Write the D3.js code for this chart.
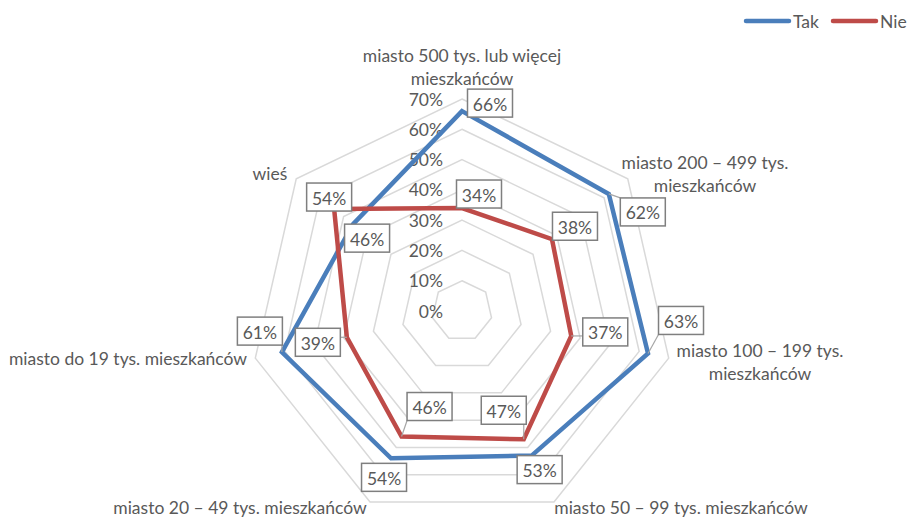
<!DOCTYPE html>
<html>
<head>
<meta charset="utf-8">
<script src="https://cdn.jsdelivr.net/npm/d3@7"></script>
<style>
  body { margin: 0; background: #fff; }
  text { font-family: Lato, "Open Sans", sans-serif; fill: #595959; }
</style>
</head>
<body>
<script>
// categories, clockwise from top
var categories = [
  ["miasto 500 tys. lub więcej", "mieszkańców"],
  ["miasto 200 – 499 tys.", "mieszkańców"],
  ["miasto 100 – 199 tys.", "mieszkańców"],
  ["miasto 50 – 99 tys. mieszkańców"],
  ["miasto 20 – 49 tys. mieszkańców"],
  ["miasto do 19 tys. mieszkańców"],
  ["wieś"]
];
var tak = [66, 62, 63, 53, 54, 61, 46];
var nie = [34, 38, 37, 47, 46, 39, 54];
var ticks = [0, 10, 20, 30, 40, 50, 60, 70];
var seriesNames = ["Tak", "Nie"];

var width = 907, height = 518;
var cx = 462, cy = 311, R = 212;
var colors = {Tak: "#4a7ebb", Nie: "#be4b48"};
var fs = "17.5px";

var svg = d3.select("body").append("svg")
  .attr("width", width).attr("height", height);

var r = d3.scaleLinear().domain([0, 70]).range([0, R]);
var angle = d3.scaleLinear().domain([0, categories.length]).range([0, 2 * Math.PI]);

function pt(i, v){
  var a = angle(i);
  return [cx + r(v) * Math.sin(a), cy - r(v) * Math.cos(a)];
}

//GRID
var idx = d3.range(categories.length);
ticks.forEach(function(t){
  if(t == 0) return;
  svg.append("path")
    .attr("d", d3.line()(idx.map(i => pt(i, t))) + "Z")
    .attr("fill", "none")
    .attr("stroke", "#d9d9d9")
    .attr("stroke-width", 1.5);
});

//tick labels
svg.selectAll("text.tick").data(ticks).enter().append("text")
  .attr("class", "tick")
  .attr("x", cx - 19)
  .attr("y", d => cy - r(d))
  .attr("dominant-baseline", "central")
  .attr("text-anchor", "end")
  .attr("font-size", fs)
  .text(d => d + "%");

//category labels
var catPos = [
  {x: 462, y: 55},
  {x: 705, y: 162},
  {x: 760, y: 350},
  {x: 681, y: 507},
  {x: 240, y: 507},
  {x: 128, y: 358},
  {x: 270, y: 173}
];
categories.forEach(function(c, i){
  var t = svg.append("text")
    .attr("x", catPos[i].x)
    .attr("y", catPos[i].y)
    .attr("text-anchor", "middle")
    .attr("dominant-baseline", "central")
    .attr("font-size", fs);
  c.forEach(function(line, j){
    t.append("tspan").attr("x", catPos[i].x).attr("dy", j == 0 ? 0 : 23).text(line);
  });
});

//SERIES LINES
var series = [{name: "Tak", values: tak}, {name: "Nie", values: nie}];
series.forEach(function(s){
  svg.append("path")
    .attr("d", d3.line()(s.values.map((v, i) => pt(i, v))) + "Z")
    .attr("fill", "none")
    .attr("stroke", colors[s.name])
    .attr("stroke-width", 4.5)
    .attr("stroke-linejoin", "miter");
});

//data labels, offsets of box centre from point
var labelOff = {
  Tak: [[28, -8], [34, 18], [33, -33], [8, 14], [-7, 19], [-22, -21], [14, 14]],
  Nie: [[17, -14], [23, -13], [34, -4], [-20, -29], [28, -30], [-29, 5], [-5, -12]]
};
var boxW = 45, boxH = 28;
series.forEach(function(s){
  s.values.forEach(function(v, i){
    var p = pt(i, v);
    var o = labelOff[s.name][i];
    var bx = p[0] + o[0], by = p[1] + o[1];
    // leader line when box is away from point
    var x0 = bx - boxW / 2, x1 = bx + boxW / 2, y0 = by - boxH / 2, y1 = by + boxH / 2;
    var nx = Math.max(x0, Math.min(p[0], x1)), ny = Math.max(y0, Math.min(p[1], y1));
    if(Math.hypot(nx - p[0], ny - p[1]) > 6){
      svg.append("path")
        .attr("d", d3.line()([[p[0], p[1]], [nx, ny]]))
        .attr("stroke", "#a6a6a6").attr("stroke-width", 1.2).attr("fill", "none");
    }
    svg.append("rect")
      .attr("x", x0).attr("y", y0)
      .attr("width", boxW).attr("height", boxH)
      .attr("fill", "#fff")
      .attr("stroke", "#7f7f7f")
      .attr("stroke-width", 1.5);
    svg.append("text")
      .attr("x", bx).attr("y", by + 1)
      .attr("text-anchor", "middle")
      .attr("dominant-baseline", "central")
      .attr("font-size", fs)
      .text(v + "%");
  });
});

//LEGEND
var legX = [746, 833];
seriesNames.forEach(function(n, i){
  svg.append("line")
    .attr("x1", legX[i]).attr("x2", legX[i] + 43)
    .attr("y1", 21).attr("y2", 21)
    .attr("stroke", colors[n]).attr("stroke-width", 4.5)
    .attr("stroke-linecap", "round");
  svg.append("text")
    .attr("x", legX[i] + 47).attr("y", 21)
    .attr("dominant-baseline", "central")
    .attr("font-size", fs)
    .text(n);
});
</script>
</body>
</html>
